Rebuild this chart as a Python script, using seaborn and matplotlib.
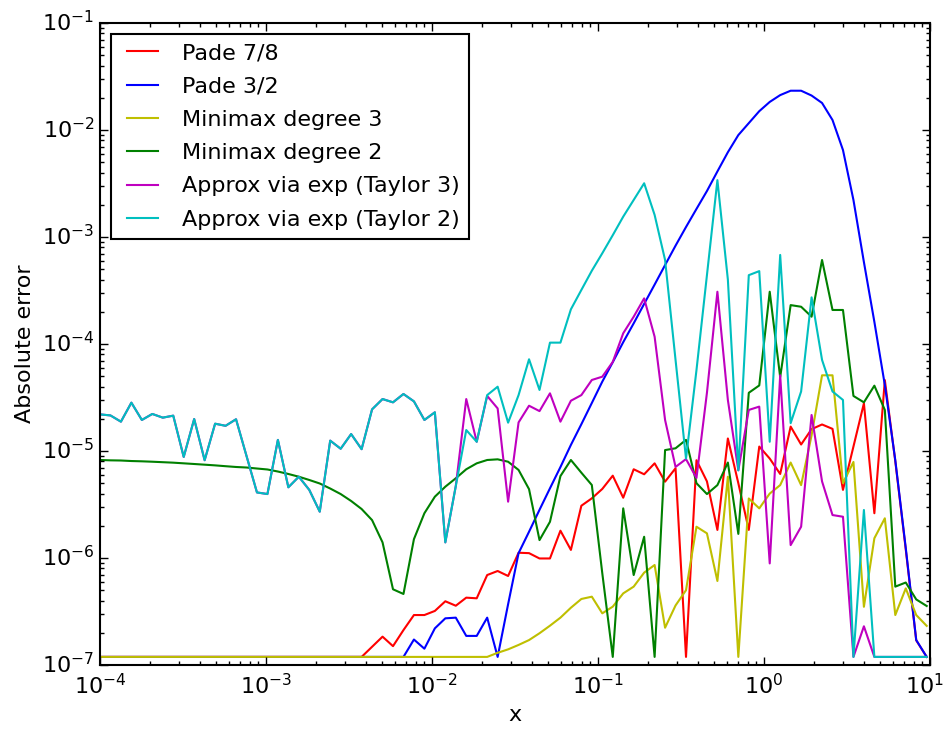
import numpy as np
import pandas as pd
import seaborn as sns
import matplotlib.pyplot as plt
import matplotlib.ticker as mticker
import matplotlib.transforms as mtransforms

plt.style.use("classic")
plt.rcParams["savefig.facecolor"] = "white"
plt.rcParams["figure.facecolor"] = "white"
plt.rcParams["mathtext.fontset"] = "dejavusans"
plt.rcParams["font.family"] = ["DejaVu Sans"]

# sample points (log-spaced, 80 of them, last one just under 10)
x = np.logspace(-4, 0.98, 80)
EPS = 1.19e-7

pade_78 = [EPS] * 26 + [
    1.48e-7, 1.84e-7, 1.5e-7, 2.12e-7, 2.93e-7, 2.93e-7, 3.2e-7, 3.94e-7, 3.58e-7, 4.26e-7,
    4.2e-7, 6.93e-7, 7.56e-7, 6.79e-7, 1.12e-6, 1.11e-6, 9.9e-7, 9.9e-7, 1.8e-6, 1.19e-6,
    3.08e-6, 3.61e-6, 4.42e-6, 5.88e-6, 3.66e-6, 6.75e-6, 6.06e-6, 7.67e-6, 5.17e-6, 6.9e-6,
    EPS, 8.2e-6, 5.2e-6, 1.83e-6, 1.31e-5, 5.0e-6, 1.83e-6, 1.1e-5, 8.5e-6, 6.1e-6,
    1.69e-5, 1.15e-5, 1.6e-5, 1.77e-5, 1.61e-5, 4.33e-6, 1.1e-5, 2.79e-5, 2.62e-6, 4.6e-5,
    8.0e-6, 1.2e-6, 1.7e-7, EPS]

pade_32 = [EPS] * 30 + [
    1.73e-7, 1.42e-7, 2.2e-7, 2.73e-7, 2.77e-7, 1.87e-7, 1.87e-7, 2.77e-7, EPS, 3.7e-7,
    1.11e-6, 1.76e-6, 2.82e-6, 4.48e-6, 7.08e-6, 1.14e-5, 1.78e-5, 2.81e-5, 4.45e-5, 6.76e-5,
    1.04e-4, 1.56e-4, 2.37e-4, 3.59e-4, 5.47e-4, 8.3e-4, 1.24e-3, 1.83e-3, 2.69e-3, 4.1e-3,
    6.2e-3, 8.97e-3, 1.16e-2, 1.5e-2, 1.83e-2, 2.12e-2, 2.33e-2, 2.33e-2, 2.1e-2, 1.79e-2,
    1.24e-2, 6.5e-3, 2.22e-3, 5.83e-4, 1.61e-4, 4.14e-5, 8.2e-6, 1.24e-6, 1.71e-7, EPS]

minimax_3 = [EPS] * 38 + [
    1.3e-7, 1.4e-7, 1.54e-7, 1.71e-7, 1.98e-7, 2.33e-7, 2.77e-7, 3.43e-7, 4.14e-7, 4.35e-7,
    3.04e-7, 3.51e-7, 4.67e-7, 5.4e-7, 7.3e-7, 8.6e-7, 2.23e-7, 3.6e-7, 5.0e-7, 1.96e-6,
    1.7e-6, 6.1e-7, 5.75e-6, EPS, 3.6e-6, 2.91e-6, 4.0e-6, 4.8e-6, 7.8e-6, 4.8e-6,
    1.4e-5, 5.1e-5, 5.1e-5, 5.0e-6, 7.9e-6, 3.5e-7, 1.53e-6, 2.35e-6, 2.93e-7, 5.2e-7,
    2.93e-7, 2.32e-7]

minimax_2 = [
    8.24e-6, 8.18e-6, 8.15e-6, 8.06e-6, 8.01e-6, 7.94e-6, 7.86e-6, 7.78e-6, 7.67e-6, 7.56e-6,
    7.45e-6, 7.34e-6, 7.21e-6, 7.09e-6, 7.01e-6, 6.86e-6, 6.72e-6, 6.43e-6, 6.10e-6, 5.75e-6,
    5.36e-6, 4.97e-6, 4.46e-6, 3.96e-6, 3.41e-6, 2.87e-6, 2.26e-6, 1.40e-6, 5.10e-7, 4.61e-7,
    1.50e-6, 2.62e-6, 3.74e-6, 4.64e-6, 5.56e-6, 6.75e-6, 7.67e-6, 8.24e-6, 8.36e-6, 7.94e-6,
    6.65e-6, 4.4e-6, 1.47e-6, 2.18e-6, 5.83e-6, 8.24e-6, 6.27e-6, 4.81e-6, 7.2e-7, EPS,
    2.91e-6, 6.93e-7, 1.58e-6, EPS, 1.02e-5, 1.06e-5, 1.27e-5, 5.0e-6, 3.96e-6, 4.8e-6,
    7.8e-6, 1.68e-6, 3.5e-5, 4.1e-5, 3.08e-4, 4.9e-5, 2.31e-4, 2.23e-4, 1.8e-4, 6.1e-4,
    2.08e-4, 2.08e-4, 3.27e-5, 2.85e-5, 4.08e-5, 2.42e-5, 5.4e-7, 5.9e-7, 4.1e-7, 3.56e-7]

# below x ~ 0.02 both exp-based approximations give the same error
shared_small_x = [
    2.2e-5, 2.15e-5, 1.88e-5, 2.83e-5, 1.95e-5, 2.22e-5, 2.05e-5, 2.14e-5, 8.8e-6, 1.99e-5,
    8.2e-6, 1.80e-5, 1.72e-5, 1.98e-5, 9.0e-6, 4.1e-6, 3.96e-6, 1.27e-5, 4.58e-6, 5.75e-6,
    4.33e-6, 2.71e-6, 1.25e-5, 1.05e-5, 1.44e-5, 1.04e-5, 2.45e-5, 3.06e-5, 2.85e-5, 3.41e-5,
    2.91e-5, 1.95e-5, 2.30e-5, 1.40e-6, 4.7e-6]

taylor_3 = shared_small_x + [
    3.06e-5, 1.22e-5, 3.27e-5, 2.5e-5, 3.36e-6, 1.85e-5, 2.65e-5, 2.36e-5, 3.46e-5, 1.88e-5,
    2.95e-5, 3.33e-5, 4.61e-5, 4.95e-5, 6.8e-5, 1.26e-4, 1.8e-4, 2.67e-4, 1.17e-4, 1.95e-5,
    7.1e-6, 8.4e-6, 5.6e-6, 3.5e-5, 3.08e-4, 3.0e-5, 6.6e-6, 2.42e-5, 2.6e-5, 8.9e-7,
    5.1e-5, 1.32e-6, 1.96e-6, 2.17e-5, 5.2e-6, 2.52e-6, 2.43e-6, EPS, 2.3e-7, EPS,
    EPS, EPS, EPS, EPS, EPS]

taylor_2 = shared_small_x + [
    1.57e-5, 1.22e-5, 3.33e-5, 3.99e-5, 1.84e-5, 3.33e-5, 7.2e-5, 3.72e-5, 1.03e-4, 1.03e-4,
    2.11e-4, 3.2e-4, 4.84e-4, 7.05e-4, 1.04e-3, 1.55e-3, 2.22e-3, 3.18e-3, 1.61e-3, 6.1e-4,
    7.1e-5, 8.5e-6, 5.7e-5, 4.4e-4, 3.4e-3, 4.0e-4, 6.6e-6, 4.4e-4, 4.8e-4, 1.22e-5,
    6.8e-4, 1.82e-5, 3.6e-5, 2.73e-4, 7.1e-5, 3.6e-5, 3.0e-5, EPS, 2.81e-6, EPS,
    EPS, EPS, EPS, EPS, EPS]

names = ["Pade 7/8", "Pade 3/2", "Minimax degree 3", "Minimax degree 2",
         "Approx via exp (Taylor 3)", "Approx via exp (Taylor 2)"]
colors = ["r", "b", "y", "g", "m", "c"]
series = [pade_78, pade_32, minimax_3, minimax_2, taylor_3, taylor_2]

fig = plt.figure(figsize=(9.46, 7.31), dpi=100)
ax = fig.add_axes([0.1057, 0.0903, 0.8774, 0.8782])

for name, col, vals in zip(names, colors, series):
    df = pd.DataFrame({"x": x, "err": vals})
    sns.lineplot(data=df, x="x", y="err", color=col, label=name,
                 linewidth=1.5, ax=ax)

ax.set_xscale("log")
ax.set_yscale("log")
ax.set_xlim(1e-4, 10)
ax.set_ylim(1e-7, 1e-1)
ax.xaxis.set_major_locator(mticker.FixedLocator([1e-4, 1e-3, 1e-2, 1e-1, 1e0, 1e1]))
ax.xaxis.set_major_formatter(mticker.LogFormatterSciNotation())
ax.set_xlabel("x", fontsize=16)
ax.set_ylabel("Absolute error", fontsize=16)
ax.tick_params(which="major", length=6, width=1, labelsize=16, direction="in")
ax.tick_params(which="minor", length=3, width=1, direction="in")
ax.tick_params(axis="x", which="major", pad=6)
for s in ax.spines.values():
    s.set_linewidth(1.5)

# keep the last x label inside the figure
last = ax.xaxis.get_major_ticks()[-1].label1
last.set_transform(last.get_transform()
                   + mtransforms.ScaledTranslation(-4 / 72, 0, fig.dpi_scale_trans))

leg = ax.legend(loc="upper left", fontsize=16, frameon=True, fancybox=False,
                handlelength=2.0, labelspacing=0.6, borderaxespad=0.5)
leg.get_frame().set_edgecolor("black")
leg.get_frame().set_linewidth(1.5)

fig.savefig("out.png", dpi=100)
